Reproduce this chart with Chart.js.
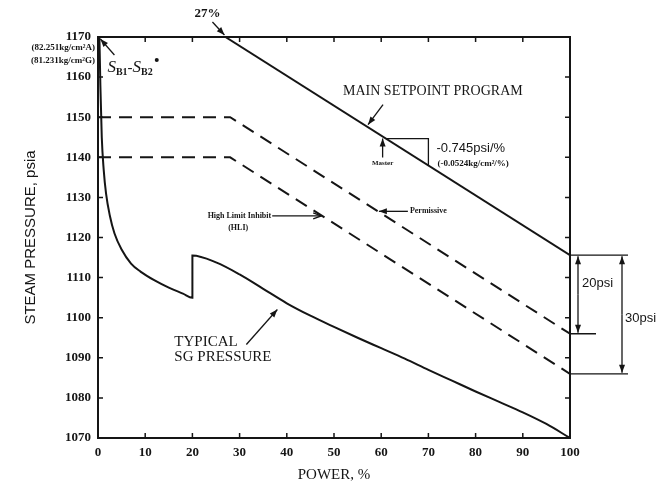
<!DOCTYPE html>
<html>
<head>
<meta charset="utf-8">
<title>Steam pressure program</title>
<script src="https://cdn.jsdelivr.net/npm/chart.js@4"></script>
<style>
  body { margin: 0; background: #fff; }
  canvas { display: block; }
</style>
</head>
<body>
<canvas id="pressureChart" width="657" height="487"></canvas>
<script>
// steam pressure vs power, all values in psia and % power
const mainPower = [27, 100];
const mainPressure = [1170, 1115.6];

const permissivePower = [0, 28, 100];
const permissivePressure = [1150, 1150, 1096];

const hliPower = [0, 28, 100];
const hliPressure = [1140, 1140, 1086];

const sgPower = [0.3, 0.5, 0.8, 1.2, 1.7, 2.5, 3.5, 5, 7, 9, 12, 15, 18, 20,
    20, 25, 30, 35, 40, 45, 50, 55, 60, 65, 70, 75, 80, 85, 90, 95, 100];
const sgPressure = [1170, 1158, 1145, 1137, 1131, 1125.5, 1121, 1117, 1113.5, 1111.5, 1109.3, 1107.5, 1106, 1105,
    1115.5, 1113.8, 1110.8, 1107.2, 1103.6, 1100.5, 1097.7, 1095, 1092.4, 1089.8, 1087, 1084.3, 1081.6, 1079, 1076.4, 1073.5, 1070];

const powerMin = 0, powerMax = 100, powerStep = 10;
const pressureMin = 1070, pressureMax = 1170, pressureStep = 10;

const ink = '#151515';
const serif = '"Liberation Serif", "DejaVu Serif", serif';
const sans = '"Liberation Sans", "DejaVu Sans", sans-serif';

function toPoints(xs, ys) {
    return xs.map((x, i) => ({ x: x, y: ys[i] }));
}

// value of a piecewise-linear series at a given power
function valueAt(xs, ys, p) {
    for (let i = 1; i < xs.length; i++) {
        if (p <= xs[i]) {
            let t = (p - xs[i - 1]) / (xs[i] - xs[i - 1]);
            return ys[i - 1] + t * (ys[i] - ys[i - 1]);
        }
    }
    return ys[ys.length - 1];
}

function arrow(ctx, x1, y1, x2, y2, open) {
    let ang = Math.atan2(y2 - y1, x2 - x1);
    let len = 8, w = 3;
    let lx = x2 - len * Math.cos(ang) + w * Math.sin(ang), ly = y2 - len * Math.sin(ang) - w * Math.cos(ang);
    let rx = x2 - len * Math.cos(ang) - w * Math.sin(ang), ry = y2 - len * Math.sin(ang) + w * Math.cos(ang);
    ctx.beginPath();
    ctx.moveTo(x1, y1);
    ctx.lineTo(x2, y2);
    ctx.stroke();
    ctx.beginPath();
    if (open) {
        ctx.moveTo(lx, ly);
        ctx.lineTo(x2, y2);
        ctx.lineTo(rx, ry);
        ctx.stroke();
    } else {
        ctx.moveTo(x2, y2);
        ctx.lineTo(lx, ly);
        ctx.lineTo(rx, ry);
        ctx.closePath();
        ctx.fill();
    }
}

function label(ctx, text, x, y, font, align) {
    ctx.font = font;
    ctx.textAlign = align || 'left';
    ctx.textBaseline = 'middle';
    ctx.fillText(text, x, y);
}

// box frame, inward ticks and all the callouts
const annotations = {
    id: 'annotations',
    afterDraw(chart) {
        const { ctx, chartArea: a, scales: { x, y } } = chart;
        const px = v => x.getPixelForValue(v);
        const py = v => y.getPixelForValue(v);
        ctx.save();
        ctx.strokeStyle = ink;
        ctx.fillStyle = ink;

        // frame
        ctx.lineWidth = 2;
        ctx.strokeRect(a.left, a.top, a.right - a.left, a.bottom - a.top);

        // inward ticks
        ctx.lineWidth = 1.5;
        ctx.beginPath();
        x.ticks.forEach(t => {
            let xx = px(t.value);
            ctx.moveTo(xx, a.bottom); ctx.lineTo(xx, a.bottom - 5);
            ctx.moveTo(xx, a.top); ctx.lineTo(xx, a.top + 5);
        });
        y.ticks.forEach(t => {
            let yy = py(t.value);
            ctx.moveTo(a.left, yy); ctx.lineTo(a.left + 5, yy);
            ctx.moveTo(a.right, yy); ctx.lineTo(a.right - 5, yy);
        });
        ctx.stroke();

        // metric equivalents of the top pressure
        label(ctx, '(82.251kg/cm\u00B2A)', a.left - 3, py(pressureMax) + 11, 'bold 9px ' + serif, 'right');
        label(ctx, '(81.231kg/cm\u00B2G)', a.left - 3, py(pressureMax) + 24, 'bold 9px ' + serif, 'right');

        ctx.lineWidth = 1.3;

        // 27% start of the setpoint program
        let sx = px(mainPower[0]), sy = py(mainPressure[0]);
        arrow(ctx, sx - 13, sy - 15, sx - 1, sy - 2);
        label(ctx, '27%', sx - 18, sy - 23, 'bold 13px ' + serif, 'center');

        // main setpoint program callout
        let mx = px(57), my = py(valueAt(mainPower, mainPressure, 57));
        arrow(ctx, mx + 16, my - 22, mx + 1, my - 2);
        label(ctx, 'MAIN SETPOINT PROGRAM', mx - 24, my - 35, '14px ' + serif, 'left');

        // master
        let ax = px(60.3), ay = py(valueAt(mainPower, mainPressure, 60.3));
        arrow(ctx, ax, ay + 21, ax, ay + 2);
        label(ctx, 'Master', ax, ay + 27, 'bold 7px ' + serif, 'center');

        // slope triangle
        let t1 = 61, t2 = 70;
        let ty1 = py(valueAt(mainPower, mainPressure, t1));
        let ty2 = py(valueAt(mainPower, mainPressure, t2));
        ctx.beginPath();
        ctx.moveTo(px(t1), ty1);
        ctx.lineTo(px(t2), ty1);
        ctx.lineTo(px(t2), ty2);
        ctx.stroke();
        label(ctx, '-0.745psi/%', px(t2) + 8, ty1 + 10, '13px ' + sans, 'left');
        label(ctx, '(-0.0524kg/cm\u00B2/%)', px(t2) + 9, ty1 + 25, 'bold 9px ' + serif, 'left');

        // permissive
        let qx = px(59.3), qy = py(valueAt(permissivePower, permissivePressure, 59.3));
        arrow(ctx, qx + 30, qy, qx + 1, qy);
        label(ctx, 'Permissive', qx + 32, qy, 'bold 8px ' + serif, 'left');

        // high limit inhibit
        let hx = px(47.5), hy = py(valueAt(hliPower, hliPressure, 47.5));
        arrow(ctx, hx - 50, hy, hx - 1, hy, true);
        label(ctx, 'High Limit Inhibit', hx - 51, hy, 'bold 8px ' + serif, 'right');
        label(ctx, '(HLI)', hx - 84, hy + 12, 'bold 8px ' + serif, 'center');

        // S_B1-S_B2* at the top of the SG curve
        let bx = px(sgPower[0]), by = py(sgPressure[0]);
        arrow(ctx, bx + 15, by + 18, bx + 1, by + 2);
        let cx = bx + 8, cy = by + 35;
        const big = 'italic 17px ' + serif, small = 'bold 10px ' + serif;
        ctx.textAlign = 'left';
        ctx.textBaseline = 'alphabetic';
        [['S', big, 0], ['B1', small, 3], ['-', '15px ' + serif, 0], ['S', big, 0], ['B2', small, 3]].forEach(p => {
            ctx.font = p[1];
            ctx.fillText(p[0], cx, cy + p[2]);
            cx += ctx.measureText(p[0]).width;
        });
        ctx.beginPath();
        ctx.arc(cx + 4, cy - 12, 2, 0, Math.PI * 2);
        ctx.fill();

        // typical SG pressure callout
        let gx = px(38), gy = py(valueAt(sgPower, sgPressure, 38));
        arrow(ctx, gx - 31, gy + 47, gx, gy + 12);
        label(ctx, 'TYPICAL', gx - 103, gy + 45, '15px ' + serif, 'left');
        label(ctx, 'SG PRESSURE', gx - 103, gy + 60, '15px ' + serif, 'left');

        // 20 psi and 30 psi brackets on the right
        let yTop = py(mainPressure[1]);
        let y20 = py(permissivePressure[2]);
        let y30 = py(hliPressure[2]);
        let r = a.right;
        ctx.beginPath();
        ctx.moveTo(r, yTop); ctx.lineTo(r + 58, yTop);
        ctx.moveTo(r, y20); ctx.lineTo(r + 26, y20);
        ctx.moveTo(r, y30); ctx.lineTo(r + 58, y30);
        ctx.stroke();
        arrow(ctx, r + 8, (yTop + y20) / 2, r + 8, yTop + 1);
        arrow(ctx, r + 8, (yTop + y20) / 2, r + 8, y20 - 1);
        arrow(ctx, r + 52, (yTop + y30) / 2, r + 52, yTop + 1);
        arrow(ctx, r + 52, (yTop + y30) / 2, r + 52, y30 - 1);
        label(ctx, '20psi', r + 12, yTop + 28, '13px ' + sans, 'left');
        label(ctx, '30psi', r + 55, (yTop + y30) / 2 + 4, '13px ' + sans, 'left');

        ctx.restore();
    }
};

const lineStyle = {
    borderColor: ink,
    borderWidth: 2,
    pointRadius: 0,
    fill: false,
    tension: 0,
};

new Chart(document.getElementById('pressureChart'), {
    type: 'line',
    data: {
        datasets: [
            Object.assign({ label: 'Main setpoint program', data: toPoints(mainPower, mainPressure) }, lineStyle),
            Object.assign({ label: 'Permissive', data: toPoints(permissivePower, permissivePressure), borderDash: [13, 8] }, lineStyle),
            Object.assign({ label: 'High limit inhibit', data: toPoints(hliPower, hliPressure), borderDash: [13, 8] }, lineStyle),
            Object.assign({ label: 'Typical SG pressure', data: toPoints(sgPower, sgPressure) }, lineStyle, { cubicInterpolationMode: 'monotone' }),
        ],
    },
    options: {
        responsive: false,
        animation: false,
        layout: { padding: { top: 37, right: 87, left: 0, bottom: 0 } },
        plugins: {
            legend: { display: false },
            tooltip: { enabled: false },
        },
        scales: {
            x: {
                type: 'linear',
                min: powerMin,
                max: powerMax,
                grid: { display: false, drawTicks: false },
                border: { display: false },
                ticks: { stepSize: powerStep, color: ink, padding: 7, font: { family: serif, size: 13, weight: 'bold' } },
                title: { display: true, text: 'POWER, %', color: ink, padding: { top: 0, bottom: 3 }, font: { family: serif, size: 15 } },
                afterFit(scale) { scale.height = 49; },
            },
            y: {
                type: 'linear',
                min: pressureMin,
                max: pressureMax,
                grid: { display: false, drawTicks: false },
                border: { display: false },
                ticks: {
                    stepSize: pressureStep, color: ink, padding: 7,
                    font: { family: serif, size: 13, weight: 'bold' },
                    callback: v => String(v),
                },
                title: { display: true, text: 'STEAM PRESSURE, psia', color: ink, padding: { top: 22, bottom: 0 }, font: { family: sans, size: 15 } },
                afterFit(scale) { scale.width = 98; },
            },
        },
    },
    plugins: [annotations],
});
</script>
</body>
</html>
